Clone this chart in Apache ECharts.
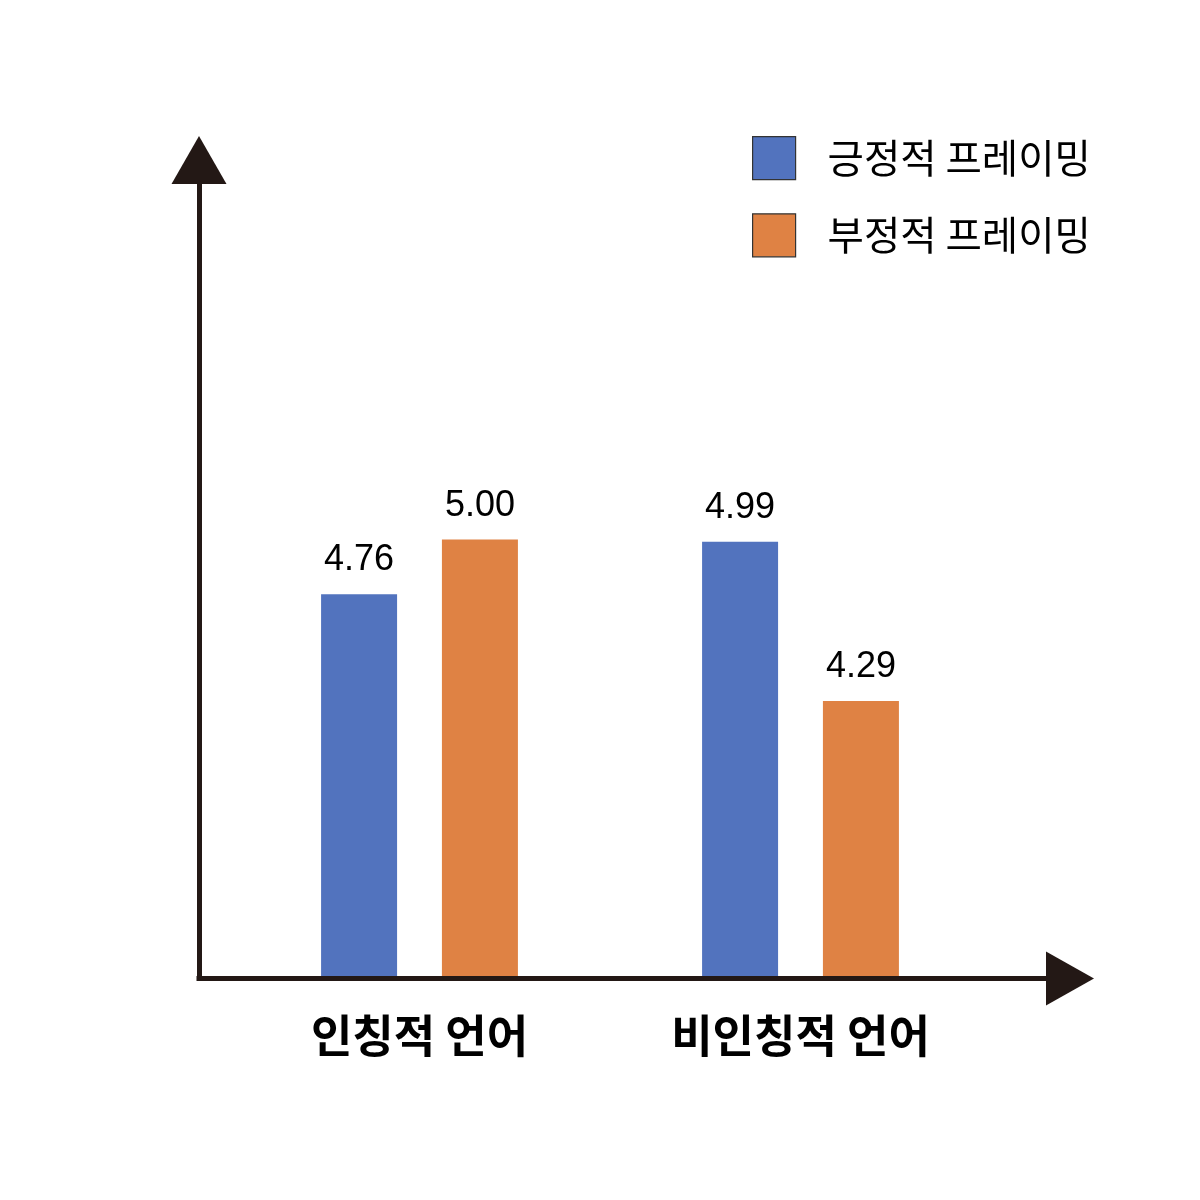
<!DOCTYPE html>
<html lang="ko">
<head>
  <meta charset="UTF-8">
  <title>프레이밍 차트</title>
  <script src="https://cdn.jsdelivr.net/npm/echarts@6/dist/echarts.min.js"></script>
  <style>
    html, body { margin: 0; padding: 0; background: #fff; }
  </style>
</head>
<body>
  <div id="chart" style="width:1200px;height:1200px;"></div>

  <script>
    // 데이터
    var categories = ['인칭적 언어', '비인칭적 언어'];
    var seriesNames = ['긍정적 프레이밍', '부정적 프레이밍'];
    var positiveValues = [4.76, 4.99];
    var negativeValues = [5.00, 4.29];

    var axisColor = '#231815';
    var myChart = echarts.init(document.getElementById('chart'));

    var valueLabel = {
      show: true,
      position: 'top',
      distance: 16,
      color: '#000',
      fontFamily: 'Liberation Sans, Arial, sans-serif',
      fontSize: 36,
      formatter: function (p) { return p.value.toFixed(2); }
    };

    var options = {
      backgroundColor: '#fff',
      color: ['#5273BE', '#DF8244'],
      legend: {
        orient: 'vertical',
        left: 752,
        top: 136,
        padding: 0,
        itemWidth: 43,
        itemHeight: 43,
        itemGap: 33,
        icon: 'rect',
        itemStyle: { borderColor: '#333', borderWidth: 1.2 },
        textStyle: {
          fontFamily: 'Noto Sans CJK KR',
          fontSize: 39.5,
          color: '#000',
          padding: [0, 0, 0, 27]
        },
        data: seriesNames
      },
      grid: [
        // 막대 영역
        {left: 229, width: 762, top: 160, bottom: 224},
        // 화살표 축 영역
        {left: 199, right: 130, top: 160, bottom: 221.5}
      ],
      xAxis: [
        {
          type: 'category',
          gridIndex: 0,
          data: categories,
          axisLine: {show: false},
          axisTick: {show: false},
          axisLabel: {
            margin: 37,
            color: '#000',
            fontFamily: 'Noto Sans CJK KR',
            fontWeight: 'bold',
            fontSize: 45
          }
        },
        {
          type: 'value',
          gridIndex: 1,
          min: 0,
          max: 1,
          axisLine: {
            show: true,
            onZero: false,
            symbol: ['none', 'triangle'],
            symbolSize: [54, 48],
            lineStyle: {color: axisColor, width: 5, cap: 'square'}
          },
          axisTick: {show: false},
          axisLabel: {show: false},
          splitLine: {show: false}
        }
      ],
      yAxis: [
        {
          type: 'value',
          gridIndex: 0,
          min: 3.08,
          max: 6.67,
          axisLine: {show: false},
          axisTick: {show: false},
          axisLabel: {show: false},
          splitLine: {show: false}
        },
        {
          type: 'value',
          gridIndex: 1,
          min: 0,
          max: 1,
          axisLine: {
            show: true,
            onZero: false,
            symbol: ['none', 'triangle'],
            symbolSize: [55, 48],
            lineStyle: {color: axisColor, width: 5, cap: 'square'}
          },
          axisTick: {show: false},
          axisLabel: {show: false},
          splitLine: {show: false}
        }
      ],
      series: [
        {
          name: seriesNames[0],
          type: 'bar',
          xAxisIndex: 0,
          yAxisIndex: 0,
          barWidth: 76,
          barGap: '59%',
          label: valueLabel,
          data: positiveValues
        },
        {
          name: seriesNames[1],
          type: 'bar',
          xAxisIndex: 0,
          yAxisIndex: 0,
          barWidth: 76,
          barGap: '59%',
          label: valueLabel,
          data: negativeValues
        }
      ]
    };

    myChart.setOption(options);
  </script>
</body>
</html>
